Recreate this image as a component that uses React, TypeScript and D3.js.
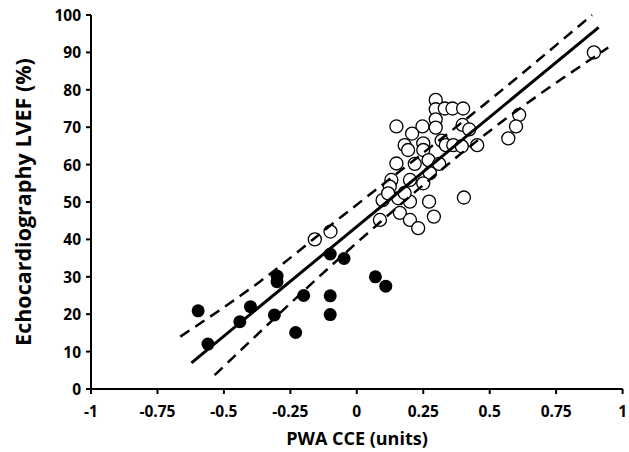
import React from "react";
import * as d3 from "d3";

const xTicks = [-1, -0.75, -0.5, -0.25, 0, 0.25, 0.5, 0.75, 1];
const xTickLabels = ["-1", "-0.75", "-0.5", "-0.25", "0", "0.25", "0.5", "0.75", "1"];
const yTicks = [0, 10, 20, 30, 40, 50, 60, 70, 80, 90, 100];

const filledX = [-0.597, -0.56, -0.44, -0.40, -0.30, -0.30, -0.31, -0.23, -0.20, -0.10, -0.048, -0.10, -0.10, 0.07, 0.109];
const filledY = [20.9, 12.0, 18.0, 22.0, 30.2, 28.7, 19.8, 15.1, 25.0, 36.1, 34.9, 24.9, 19.9, 30.0, 27.5];

const openX = [0.892, 0.297, 0.297, 0.331, 0.36, 0.40, 0.297, 0.149, 0.247, 0.297, 0.398, 0.423, 0.611, 0.599, 0.57, 0.208, 0.18, 0.193, 0.25, 0.25, 0.319, 0.335, 0.363, 0.395, 0.453, 0.149, 0.218, 0.27, 0.31, 0.275, 0.25, 0.13, 0.124, 0.2, 0.097, 0.156, 0.2, 0.272, 0.403, 0.162, 0.29, 0.2, 0.231, 0.087, -0.158, -0.099, 0.118, 0.18];
const openY = [90.0, 77.3, 74.8, 75.0, 75.0, 75.0, 72.1, 70.2, 70.2, 69.9, 70.6, 69.4, 73.3, 70.2, 67.0, 68.3, 65.2, 63.9, 65.7, 63.9, 66.4, 65.2, 65.2, 64.9, 65.2, 60.3, 60.2, 61.2, 60.2, 57.7, 55.0, 55.9, 54.1, 55.9, 50.5, 51.0, 50.1, 50.1, 51.2, 47.1, 46.1, 45.2, 43.0, 45.2, 40.0, 42.1, 52.3, 52.4];

const fitX = [-0.622, 0.91];
const fitY = [7.0, 96.7];
const upperX = [-0.664, -0.365, -0.089, 0.513, 0.885];
const upperY = [14.0, 28.7, 44.3, 78.0, 100.0];
const lowerX = [-0.535, 0.011, 0.513, 0.946];
const lowerY = [3.7, 39.8, 69.7, 91.3];

const W = 629;
const H = 452;

export default function App() {
  const x = d3.scaleLinear().domain([-1, 1]).range([91, 622.6]);
  const y = d3.scaleLinear().domain([0, 100]).range([389, 15]);
  const font = "'Open Sans', 'Liberation Sans', sans-serif";

  const line = d3
    .line<[number, number]>()
    .x((d) => x(d[0]))
    .y((d) => y(d[1]));
  const curve = d3
    .line<[number, number]>()
    .x((d) => x(d[0]))
    .y((d) => y(d[1]))
    .curve(d3.curveMonotoneX);

  const fitPts = fitX.map((v, i) => [v, fitY[i]] as [number, number]);
  const upPts = upperX.map((v, i) => [v, upperY[i]] as [number, number]);
  const loPts = lowerX.map((v, i) => [v, lowerY[i]] as [number, number]);

  return (
    <svg
      width={W}
      height={H}
      style={{ position: "absolute", left: 0, top: 0, background: "#fff" }}
    >
      <rect width={W} height={H} fill="#fff" />
      {/* Axes */}
      <line x1={x(-1)} x2={x(-1)} y1={y(0)} y2={y(100)} stroke="#000" strokeWidth={2} />
      <line x1={x(-1)} x2={x(1)} y1={y(0)} y2={y(0)} stroke="#000" strokeWidth={2} />
      {yTicks.map((t) => (
        <g key={"y" + t}>
          <line x1={x(-1) - 5} x2={x(-1)} y1={y(t)} y2={y(t)} stroke="#000" strokeWidth={2} />
          <text
            x={x(-1) - 10}
            y={y(t)}
            textAnchor="end"
            dominantBaseline="central"
            fontFamily={font}
            fontWeight="bold"
            fontSize={15.5}
          >
            {t}
          </text>
        </g>
      ))}
      {xTicks.map((t, i) => (
        <g key={"x" + t}>
          <line x1={x(t)} x2={x(t)} y1={y(0)} y2={y(0) + 5} stroke="#000" strokeWidth={2} />
          <text
            x={x(t)}
            y={y(0) + 22}
            textAnchor="middle"
            dominantBaseline="central"
            fontFamily={font}
            fontWeight="bold"
            fontSize={15.5}
          >
            {xTickLabels[i]}
          </text>
        </g>
      ))}
      <text
        x={357}
        y={438}
        textAnchor="middle"
        dominantBaseline="central"
        fontFamily={font}
        fontWeight="bold"
        fontSize={18}
      >
        PWA CCE (units)
      </text>
      <text
        transform={`translate(22,${(y(0) + y(100)) / 2}) rotate(-90)`}
        textAnchor="middle"
        dominantBaseline="central"
        fontFamily={font}
        fontWeight="bold"
        fontSize={21.5}
      >
        Echocardiography LVEF (%)
      </text>

      {/* Points */}
      {openX.map((v, i) => (
        <circle
          key={"o" + i}
          cx={x(v)}
          cy={y(openY[i])}
          r={6.5}
          fill="#fff"
          stroke="#000"
          strokeWidth={1.3}
        />
      ))}
      {filledX.map((v, i) => (
        <circle key={"f" + i} cx={x(v)} cy={y(filledY[i])} r={6.5} fill="#000" />
      ))}

      {/* Lines */}
      <path d={line(fitPts) || ""} fill="none" stroke="#000" strokeWidth={3} />
      <path
        d={curve(upPts) || ""}
        fill="none"
        stroke="#000"
        strokeWidth={2.5}
        strokeDasharray="11,7"
      />
      <path
        d={curve(loPts) || ""}
        fill="none"
        stroke="#000"
        strokeWidth={2.5}
        strokeDasharray="11,7"
      />
    </svg>
  );
}
